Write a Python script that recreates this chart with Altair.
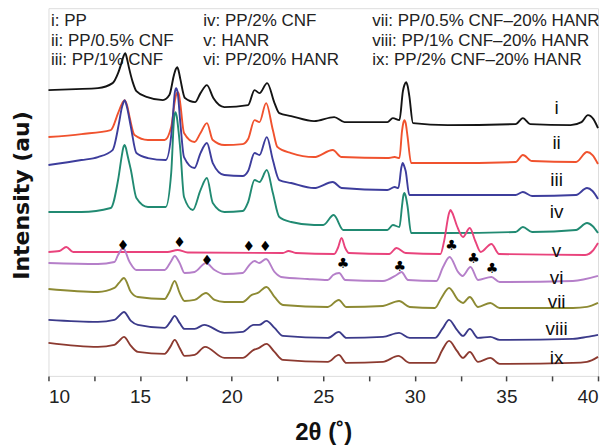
import altair as alt
import pandas as pd

# ---- data (x = 2theta, y = intensity in arbitrary units) ----
X_I = [10, 11.5, 12.7, 13.5, 13.8, 14.0, 14.1, 14.19, 14.28, 14.4, 14.6, 14.8, 15.4, 16.25, 16.6, 16.85, 16.95, 17.03, 17.11, 17.2, 17.45, 18.0, 18.3, 18.65, 19.0, 19.6, 20.9, 21.25, 21.52, 21.94, 22.34, 22.6, 23.25, 24.5, 25.6, 26.16, 28.5, 28.8, 29.16, 29.35, 29.43, 29.52, 29.61, 29.7, 29.9, 31.8, 35.5, 35.9, 36.3, 38.5, 39.1, 39.45, 39.75, 40]
Y_I = [286, 287, 288, 293, 303, 314, 320, 323, 318, 308, 294, 285, 279, 276, 281, 301, 307, 309, 305, 297, 278, 274, 283, 291, 278, 269, 271, 286, 283, 293, 273, 263, 260, 255, 259, 254, 254, 258, 256, 285, 291, 294, 290, 280, 253, 251, 252, 258, 252, 251, 254, 261, 257, 248]

X_II = [10, 11.8, 13.4, 13.8, 14.0, 14.08, 14.16, 14.23, 14.3, 14.43, 14.7, 15.43, 16.34, 16.7, 16.9, 16.98, 17.06, 17.13, 17.2, 17.4, 17.97, 18.3, 18.65, 18.97, 19.6, 20.6, 20.9, 21.25, 21.52, 21.88, 22.25, 22.5, 23.25, 24.5, 25.52, 26.0, 28.5, 28.9, 29.16, 29.3, 29.37, 29.43, 29.5, 29.6, 29.8, 31.8, 35.5, 35.9, 36.4, 38.8, 39.4, 39.7, 40]
Y_II = [239, 242, 246, 263, 272, 274.5, 276, 274, 270, 259, 241, 236, 236, 249, 275, 282, 284, 281, 272, 243, 234, 243, 253, 236, 231, 232, 237, 256, 254, 273, 246, 229, 223, 219, 226, 219, 218, 219, 218, 245, 253, 256, 253, 240, 213, 213, 214, 221, 215, 214, 224, 221, 212]

X_III = [10, 11.8, 12.7, 13.5, 13.85, 14.0, 14.08, 14.16, 14.23, 14.3, 14.5, 14.8, 15.43, 16.4, 16.75, 16.9, 16.97, 17.05, 17.2, 17.4, 17.97, 18.3, 18.65, 18.97, 19.6, 20.6, 20.9, 21.25, 21.52, 21.92, 22.25, 22.6, 23.25, 24.5, 25.52, 26.0, 28.5, 28.9, 29.1, 29.27, 29.34, 29.42, 29.5, 29.7, 31.8, 35.5, 35.9, 36.4, 38.8, 39.4, 39.7, 40]
Y_III = [211, 216, 219, 226, 253, 268, 273, 276, 273, 268, 249, 223, 218, 216, 249, 284, 288, 284, 253, 219, 208, 223, 233, 213, 201, 200, 205, 223, 221, 239, 216, 196, 193, 188, 194, 188, 186, 189, 188, 209, 213, 210, 205, 181, 181, 181, 184, 180, 181, 188, 185, 177]

X_IV = [10, 11.8, 13.4, 13.8, 14.0, 14.08, 14.16, 14.23, 14.3, 14.5, 14.8, 15.43, 16.4, 16.7, 16.86, 16.93, 17.0, 17.1, 17.2, 17.4, 17.88, 18.3, 18.65, 18.97, 19.6, 20.6, 20.9, 21.25, 21.52, 21.92, 22.25, 22.6, 23.25, 24.5, 25.0, 25.57, 26.1, 28.5, 28.8, 29.16, 29.3, 29.37, 29.43, 29.5, 29.6, 29.8, 31.8, 35.5, 35.9, 36.4, 38.8, 39.4, 39.7, 40]
Y_IV = [164, 164, 168, 196, 220, 228, 231, 228, 222, 206, 178, 169, 169, 203, 258, 264, 260, 245, 226, 179, 166, 186, 198, 173, 164, 165, 174, 196, 194, 206, 183, 159, 154, 151, 151, 161, 146, 146, 151, 149, 170, 180, 183, 180, 170, 143, 143, 144, 149, 144, 146, 153, 150, 143]

X_V = [10, 10.6, 10.97, 11.35, 16.5, 17.05, 17.6, 22.8, 23.1, 23.5, 25.6, 25.8, 26.0, 26.2, 26.4, 28.6, 29.0, 29.5, 31.4, 31.6, 31.87, 31.95, 32.05, 32.3, 32.63, 33.0, 33.3, 33.6, 34.18, 34.6, 39.3, 39.7, 40]
Y_V = [124, 125, 129, 124, 124, 126, 123.5, 123, 125, 123, 122, 128, 138, 128, 123, 122, 128, 123, 122, 135, 163, 166, 163, 150, 139, 148, 135, 124, 132, 122, 121, 125, 133]

X_VI = [10, 12.7, 13.6, 13.8, 14.07, 14.43, 14.8, 16.34, 16.67, 16.89, 17.16, 17.43, 17.98, 18.6, 19.07, 19.6, 20.6, 20.97, 21.25, 21.5, 21.88, 22.34, 22.7, 24.15, 25.25, 25.54, 25.87, 26.2, 28.26, 29.0, 29.27, 29.63, 31.18, 31.54, 31.9, 32.36, 32.6, 33.04, 33.45, 34.18, 34.63, 38.63, 40]
Y_VI = [113, 112, 114, 121, 128, 114, 106, 106, 114, 120, 113, 103, 104, 113, 106, 102, 103, 111, 115, 113, 117, 104, 99, 97, 96, 101, 103, 96, 95, 101, 104, 96, 95, 109, 119, 104, 100, 109, 96, 99, 94, 95, 100]

X_VII = [10, 12.7, 13.6, 13.85, 14.12, 14.5, 14.88, 16.34, 16.6, 16.89, 17.16, 17.43, 17.98, 18.6, 19.07, 19.6, 20.6, 21.1, 21.43, 21.9, 22.34, 22.8, 25.25, 25.85, 26.26, 28.26, 29.14, 29.72, 31.1, 31.45, 31.87, 32.36, 32.63, 33.0, 33.45, 34.12, 34.63, 38.63, 39.4, 40]
Y_VII = [87, 84, 88, 93, 98, 84, 79, 77, 84, 95, 83, 75, 76, 83, 76, 74, 74, 81, 83, 89, 79, 71, 69, 76, 69, 70, 75, 69, 68, 78, 88, 76, 73, 79, 69, 73, 68, 68, 69, 73]

X_VIII = [10, 12.7, 13.6, 13.85, 14.12, 14.5, 14.88, 16.34, 16.65, 16.89, 17.16, 17.43, 17.98, 18.5, 19.6, 20.6, 21.2, 21.5, 21.9, 22.34, 22.8, 25.25, 25.85, 26.26, 28.26, 29.14, 29.72, 31.1, 31.5, 31.87, 32.3, 32.63, 33.0, 33.45, 34.12, 34.63, 38.63, 39.4, 40]
Y_VIII = [56, 54, 56, 60, 64, 55, 51, 48, 54, 60, 53, 47, 47, 51, 43, 44, 51, 51, 55, 48, 40, 38, 44, 38, 39, 43, 38, 38, 47, 56, 46, 40, 47, 38, 39, 36, 37, 39, 41]

X_IX = [10, 12.7, 13.6, 13.85, 14.12, 14.5, 14.88, 16.34, 16.65, 16.89, 17.16, 17.43, 17.98, 18.55, 19.6, 20.6, 21.2, 21.5, 21.9, 22.34, 22.8, 25.25, 25.85, 26.26, 28.26, 29.1, 29.72, 31.1, 31.5, 31.87, 32.3, 32.63, 33.0, 33.45, 34.12, 34.63, 38.63, 39.4, 40]
Y_IX = [33, 29, 31, 35, 39, 30, 24, 22, 29, 36, 28, 20, 21, 29, 18, 18, 26, 28, 32, 24, 16, 14, 21, 13, 14, 20, 13, 13, 26, 35, 25, 18, 24, 14, 18, 12, 13, 14, 19]

SERIES = ["i", "ii", "iii", "iv", "v", "vi", "vii", "viii", "ix"]
COLORS = ["#141414", "#f0522e", "#3d3d9c", "#218a72", "#e9437c", "#b57fc9", "#8d8a33", "#3b3a8a", "#8c3a30"]
CURVES = [(X_I, Y_I), (X_II, Y_II), (X_III, Y_III), (X_IV, Y_IV), (X_V, Y_V),
          (X_VI, Y_VI), (X_VII, Y_VII), (X_VIII, Y_VIII), (X_IX, Y_IX)]

# curve labels at right
LABEL_X = [37.74] * 9
LABEL_Y = [268, 233, 196, 164, 125, 98, 74, 47, 18]

# legend text (three columns)
LEGEND_TEXT = ["i: PP", "ii: PP/0.5% CNF", "iii: PP/1% CNF",
               "iv: PP/2% CNF", "v: HANR", "vi: PP/20% HANR",
               "vii: PP/0.5% CNF\u201320% HANR", "viii: PP/1% CNF\u201320% HANR", "ix: PP/2% CNF\u201320% HANR"]
LEGEND_X = [10.14] * 3 + [18.45] * 3 + [27.68] * 3
LEGEND_Y = [355, 335.5, 316] * 3

# peak markers
DIAMOND_X = [14.07, 17.16, 20.94, 21.83, 18.66]
DIAMOND_Y = [130, 133, 129, 129, 115]
CLUB_X = [32.0, 33.21, 34.21, 26.08, 29.18]
CLUB_Y = [130, 117, 107, 112, 109]

rows = []
for s, (xs_, ys_) in zip(SERIES, CURVES):
    for i, (a, b) in enumerate(zip(xs_, ys_)):
        rows.append({"series": s, "x": a, "y": b, "order": i})
df = pd.DataFrame(rows)

lab_df = pd.DataFrame({"t": SERIES, "x": LABEL_X, "y": LABEL_Y})
leg_df = pd.DataFrame({"t": LEGEND_TEXT, "x": LEGEND_X, "y": LEGEND_Y})
mk_df = pd.DataFrame({
    "t": ["\u2666"] * len(DIAMOND_X) + ["\u2663"] * len(CLUB_X),
    "x": DIAMOND_X + CLUB_X,
    "y": DIAMOND_Y + CLUB_Y,
})

xs = alt.Scale(domain=[10, 40], nice=False, zero=False)
ys = alt.Scale(domain=[0, 368], nice=False, zero=False)

x_axis = alt.Axis(
    values=[10, 12.5, 15, 17.5, 20, 22.5, 25, 27.5, 30, 32.5, 35, 37.5, 40],
    labelExpr="datum.value % 5 === 0 ? datum.label : ''",
    format="d", grid=False, domain=False,
    tickSize=5, tickWidth=1.5, tickColor="#444",
    labelFont="Liberation Sans", labelFontSize=19, labelColor="#222", labelPadding=7,
    title="2\u03b8 (\u02da)", titleFont="Liberation Sans", titleFontSize=24, titleFontWeight="bold",
    titleColor="#111", titleY=57, titleBaseline="middle",
)
y_axis = alt.Axis(
    labels=False, ticks=False, grid=False, domain=False,
    title="Intensity (au)", titleFont="DejaVu Sans", titleFontSize=22, titleFontWeight="bold",
    titleColor="#111", titleX=-27, titleY=187, titleBaseline="middle", titleAngle=-90,
    titleAlign="center",
)

legend = alt.Chart(leg_df).mark_text(
    align="left", baseline="middle", font="Liberation Sans", fontSize=17, color="#222"
).encode(x=alt.X("x:Q", scale=xs, axis=x_axis), y=alt.Y("y:Q", scale=ys, axis=y_axis), text="t:N")

lines = alt.Chart(df).mark_line(interpolate="monotone", strokeWidth=1.9).encode(
    x=alt.X("x:Q", scale=xs),
    y=alt.Y("y:Q", scale=ys),
    color=alt.Color("series:N", scale=alt.Scale(domain=SERIES, range=COLORS), legend=None),
    order="order:Q",
)

labels = alt.Chart(lab_df).mark_text(
    align="center", baseline="middle", font="Liberation Sans", fontSize=19, color="#111"
).encode(x=alt.X("x:Q", scale=xs), y=alt.Y("y:Q", scale=ys), text="t:N")

markers = alt.Chart(mk_df).mark_text(
    align="center", baseline="middle", font="DejaVu Sans", fontSize=14, color="#000"
).encode(x=alt.X("x:Q", scale=xs), y=alt.Y("y:Q", scale=ys), text="t:N")

chart = alt.layer(legend, lines, labels, markers).properties(
    width=550, height=368,
    autosize=alt.AutoSizeParams(type="none"),
    padding={"left": 40.5, "top": 0, "right": 8, "bottom": 70},
).configure_view(stroke="#444", strokeWidth=1.5).configure(background="white")

chart.save("out.html", embed_options={"renderer": "svg", "actions": False})
